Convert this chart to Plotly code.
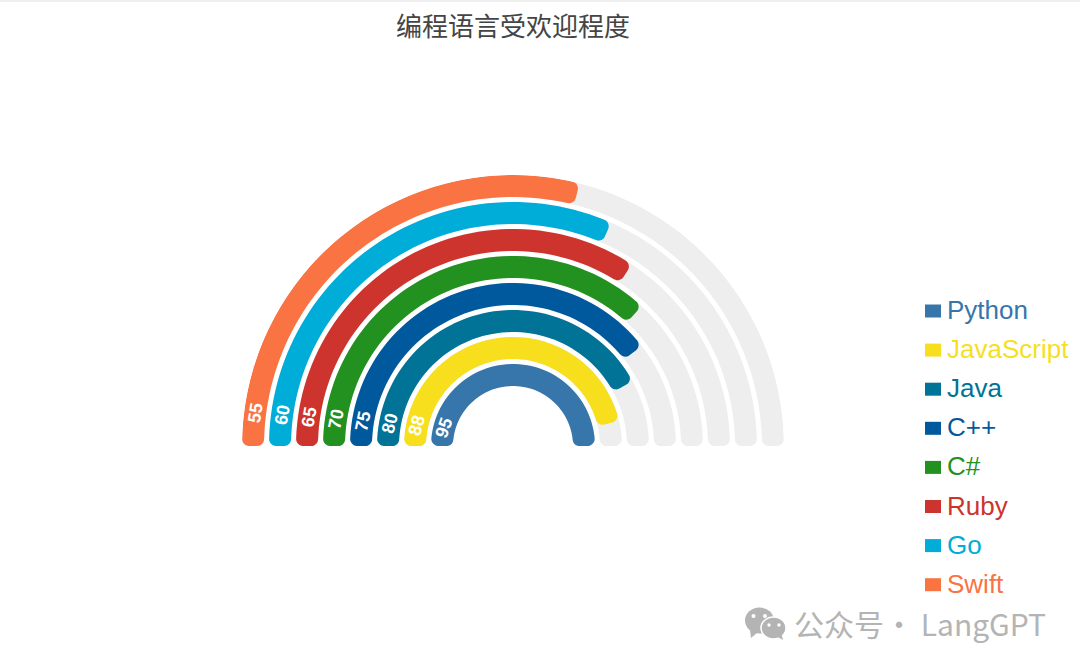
"""Rainbow gauge of programming language popularity."""

import numpy as np
import plotly.graph_objects as go

WIDTH = 1080
HEIGHT = 668

languages = ["Python", "JavaScript", "Java", "C++", "C#", "Ruby", "Go", "Swift"]
scores = [95, 88, 80, 75, 70, 65, 60, 55]
colors = ["#3776ab", "#f7df1e", "#007396", "#00599c", "#239120", "#cc342d", "#00add8", "#fa7343"]

SCORE_MAX = 95
TRACK_COLOR = "#eeeeee"

# geometry in pixels, the radial axis runs 1:1 with the screen
CENTER_X = 513
CENTER_Y = 446
INNER_R = 60
BAND = 22
STEP = 27
OUTER_R = INNER_R + 7 * STEP + BAND
CORNER = 7


def paper_x(px):
    return px / WIDTH


def paper_y(py):
    return 1 - py / HEIGHT


def rounded_sector(end_deg, r0, r1):
    """Outline (r, theta) of a band from 0 to end_deg with rounded corners."""

    def corner(rc, sign_r, theta_c, sign_t, flip):
        phi = np.linspace(0, np.pi / 2, 8)
        if flip:
            phi = phi[::-1]
        r = rc + sign_r * CORNER * np.cos(phi)
        theta = theta_c + sign_t * np.degrees(CORNER * np.sin(phi) / r)
        return r, theta

    d1 = np.degrees(CORNER / (r1 - CORNER))
    d0 = np.degrees(CORNER / (r0 + CORNER))
    parts = [
        corner(r1 - CORNER, 1, d1, -1, True),
        (np.full(60, r1), np.linspace(d1, end_deg - d1, 60)),
        corner(r1 - CORNER, 1, end_deg - d1, 1, False),
        corner(r0 + CORNER, -1, end_deg - d0, 1, True),
        (np.full(60, r0), np.linspace(end_deg - d0, d0, 60)),
        corner(r0 + CORNER, -1, d0, -1, False),
    ]
    r = np.concatenate([p[0] for p in parts] + [parts[0][0][:1]])
    theta = np.concatenate([p[1] for p in parts] + [parts[0][1][:1]])
    return r, theta


fig = go.Figure()

# grey tracks first so the coloured bands sit on top
for i, name in enumerate(languages):
    r0 = INNER_R + i * STEP
    r, theta = rounded_sector(180, r0, r0 + BAND)
    fig.add_trace(
        go.Scatterpolar(
            r=r,
            theta=theta,
            mode="lines",
            fill="toself",
            fillcolor=TRACK_COLOR,
            line=dict(width=0, color=TRACK_COLOR),
            hoverinfo="skip",
            showlegend=False,
            cliponaxis=False,
        )
    )

annotations = []
shapes = []

for i, (name, score, color) in enumerate(zip(languages, scores, colors)):
    r0 = INNER_R + i * STEP
    r, theta = rounded_sector(score * 180 / SCORE_MAX, r0, r0 + BAND)
    fig.add_trace(
        go.Scatterpolar(
            r=r,
            theta=theta,
            mode="lines",
            fill="toself",
            fillcolor=color,
            line=dict(width=0, color=color),
            name=name,
            text=f"{name}: {score}",
            hoverinfo="text",
            hoveron="fills",
            showlegend=False,
            cliponaxis=False,
        )
    )

    # value label near the start of the band, following its curve
    r_mid = r0 + BAND / 2
    label_rise = 13 + 0.078 * r_mid
    label_deg = np.degrees(np.arcsin(label_rise / r_mid))
    annotations.append(
        dict(
            x=paper_x(CENTER_X - r_mid * np.cos(np.radians(label_deg))),
            y=paper_y(CENTER_Y - label_rise),
            xref="paper",
            yref="paper",
            xanchor="center",
            yanchor="middle",
            text=f"<b>{score}</b>",
            textangle=-90 + 1.3 * label_deg,
            showarrow=False,
            font=dict(family="Liberation Sans", size=18, color="#ffffff"),
        )
    )

    # legend column on the right
    row_y = 311 + i * 39.1
    shapes.append(
        dict(
            type="rect",
            xref="paper",
            yref="paper",
            x0=paper_x(925),
            x1=paper_x(941),
            y0=paper_y(row_y - 6.5),
            y1=paper_y(row_y + 6.5),
            fillcolor=color,
            line=dict(width=0),
        )
    )
    annotations.append(
        dict(
            x=paper_x(945),
            y=paper_y(row_y - 1),
            xref="paper",
            yref="paper",
            xanchor="left",
            yanchor="middle",
            text=name,
            showarrow=False,
            font=dict(family="Liberation Sans", size=26, color=color),
        )
    )

# thin rule along the top edge of the page
shapes.append(
    dict(
        type="rect",
        xref="paper",
        yref="paper",
        x0=0,
        x1=1,
        y0=paper_y(2),
        y1=1,
        fillcolor="#f0f0f0",
        line=dict(width=0),
    )
)

# watermark: chat bubbles icon and account name
WATERMARK = "#b4b4b4"


def ellipse(cx, cy, rx, ry, fill, edge=None):
    return dict(
        type="circle",
        xref="paper",
        yref="paper",
        x0=paper_x(cx - rx),
        x1=paper_x(cx + rx),
        y0=paper_y(cy + ry),
        y1=paper_y(cy - ry),
        fillcolor=fill,
        line=dict(width=1.5 if edge else 0, color=edge or fill),
    )


def triangle(points, fill):
    path = "M " + " L ".join(f"{paper_x(x)},{paper_y(y)}" for x, y in points) + " Z"
    return dict(type="path", xref="paper", yref="paper", path=path, fillcolor=fill, line=dict(width=0))


shapes += [
    ellipse(759.5, 620.5, 14.5, 13, WATERMARK),
    triangle([(750, 630), (751, 638), (758, 632)], WATERMARK),
    ellipse(753.5, 616, 2, 2, "#ffffff"),
    ellipse(765, 616, 2, 2, "#ffffff"),
    ellipse(773.5, 628, 12.5, 11, WATERMARK, "#ffffff"),
    triangle([(776, 636), (783, 640), (781, 632)], WATERMARK),
    ellipse(769, 625, 1.7, 1.7, "#ffffff"),
    ellipse(779, 625, 1.7, 1.7, "#ffffff"),
]
annotations.append(
    dict(
        x=paper_x(792),
        y=paper_y(623),
        xref="paper",
        yref="paper",
        xanchor="left",
        yanchor="middle",
        text="公众号",
        showarrow=False,
        font=dict(family="Noto Sans CJK SC", size=30, color=WATERMARK),
    )
)
annotations.append(
    dict(
        x=paper_x(1048),
        y=paper_y(623),
        xref="paper",
        yref="paper",
        xanchor="right",
        yanchor="middle",
        text="· LangGPT",
        showarrow=False,
        font=dict(family="Noto Sans CJK SC", size=30, color=WATERMARK),
    )
)

fig.update_layout(
    width=WIDTH,
    height=HEIGHT,
    margin=dict(l=0, r=0, t=0, b=0),
    paper_bgcolor="#ffffff",
    title=dict(
        text="编程语言受欢迎程度",
        x=paper_x(CENTER_X),
        xanchor="center",
        y=paper_y(27),
        yanchor="middle",
        font=dict(family="Noto Sans CJK SC", size=26, color="#444444"),
    ),
    polar=dict(
        domain=dict(
            x=[paper_x(CENTER_X - OUTER_R), paper_x(CENTER_X + OUTER_R)],
            y=[paper_y(CENTER_Y), paper_y(CENTER_Y - OUTER_R)],
        ),
        sector=[0, 180],
        bgcolor="rgba(0,0,0,0)",
        radialaxis=dict(visible=False, range=[0, OUTER_R]),
        angularaxis=dict(visible=False, direction="clockwise", rotation=180),
    ),
    shapes=shapes,
    annotations=annotations,
    showlegend=False,
)

# the page's default body margin would push the fixed-size figure off by 8px
fig.write_html(
    "out.html",
    config={"displayModeBar": False},
    post_script="document.body.style.margin = '0';",
)
